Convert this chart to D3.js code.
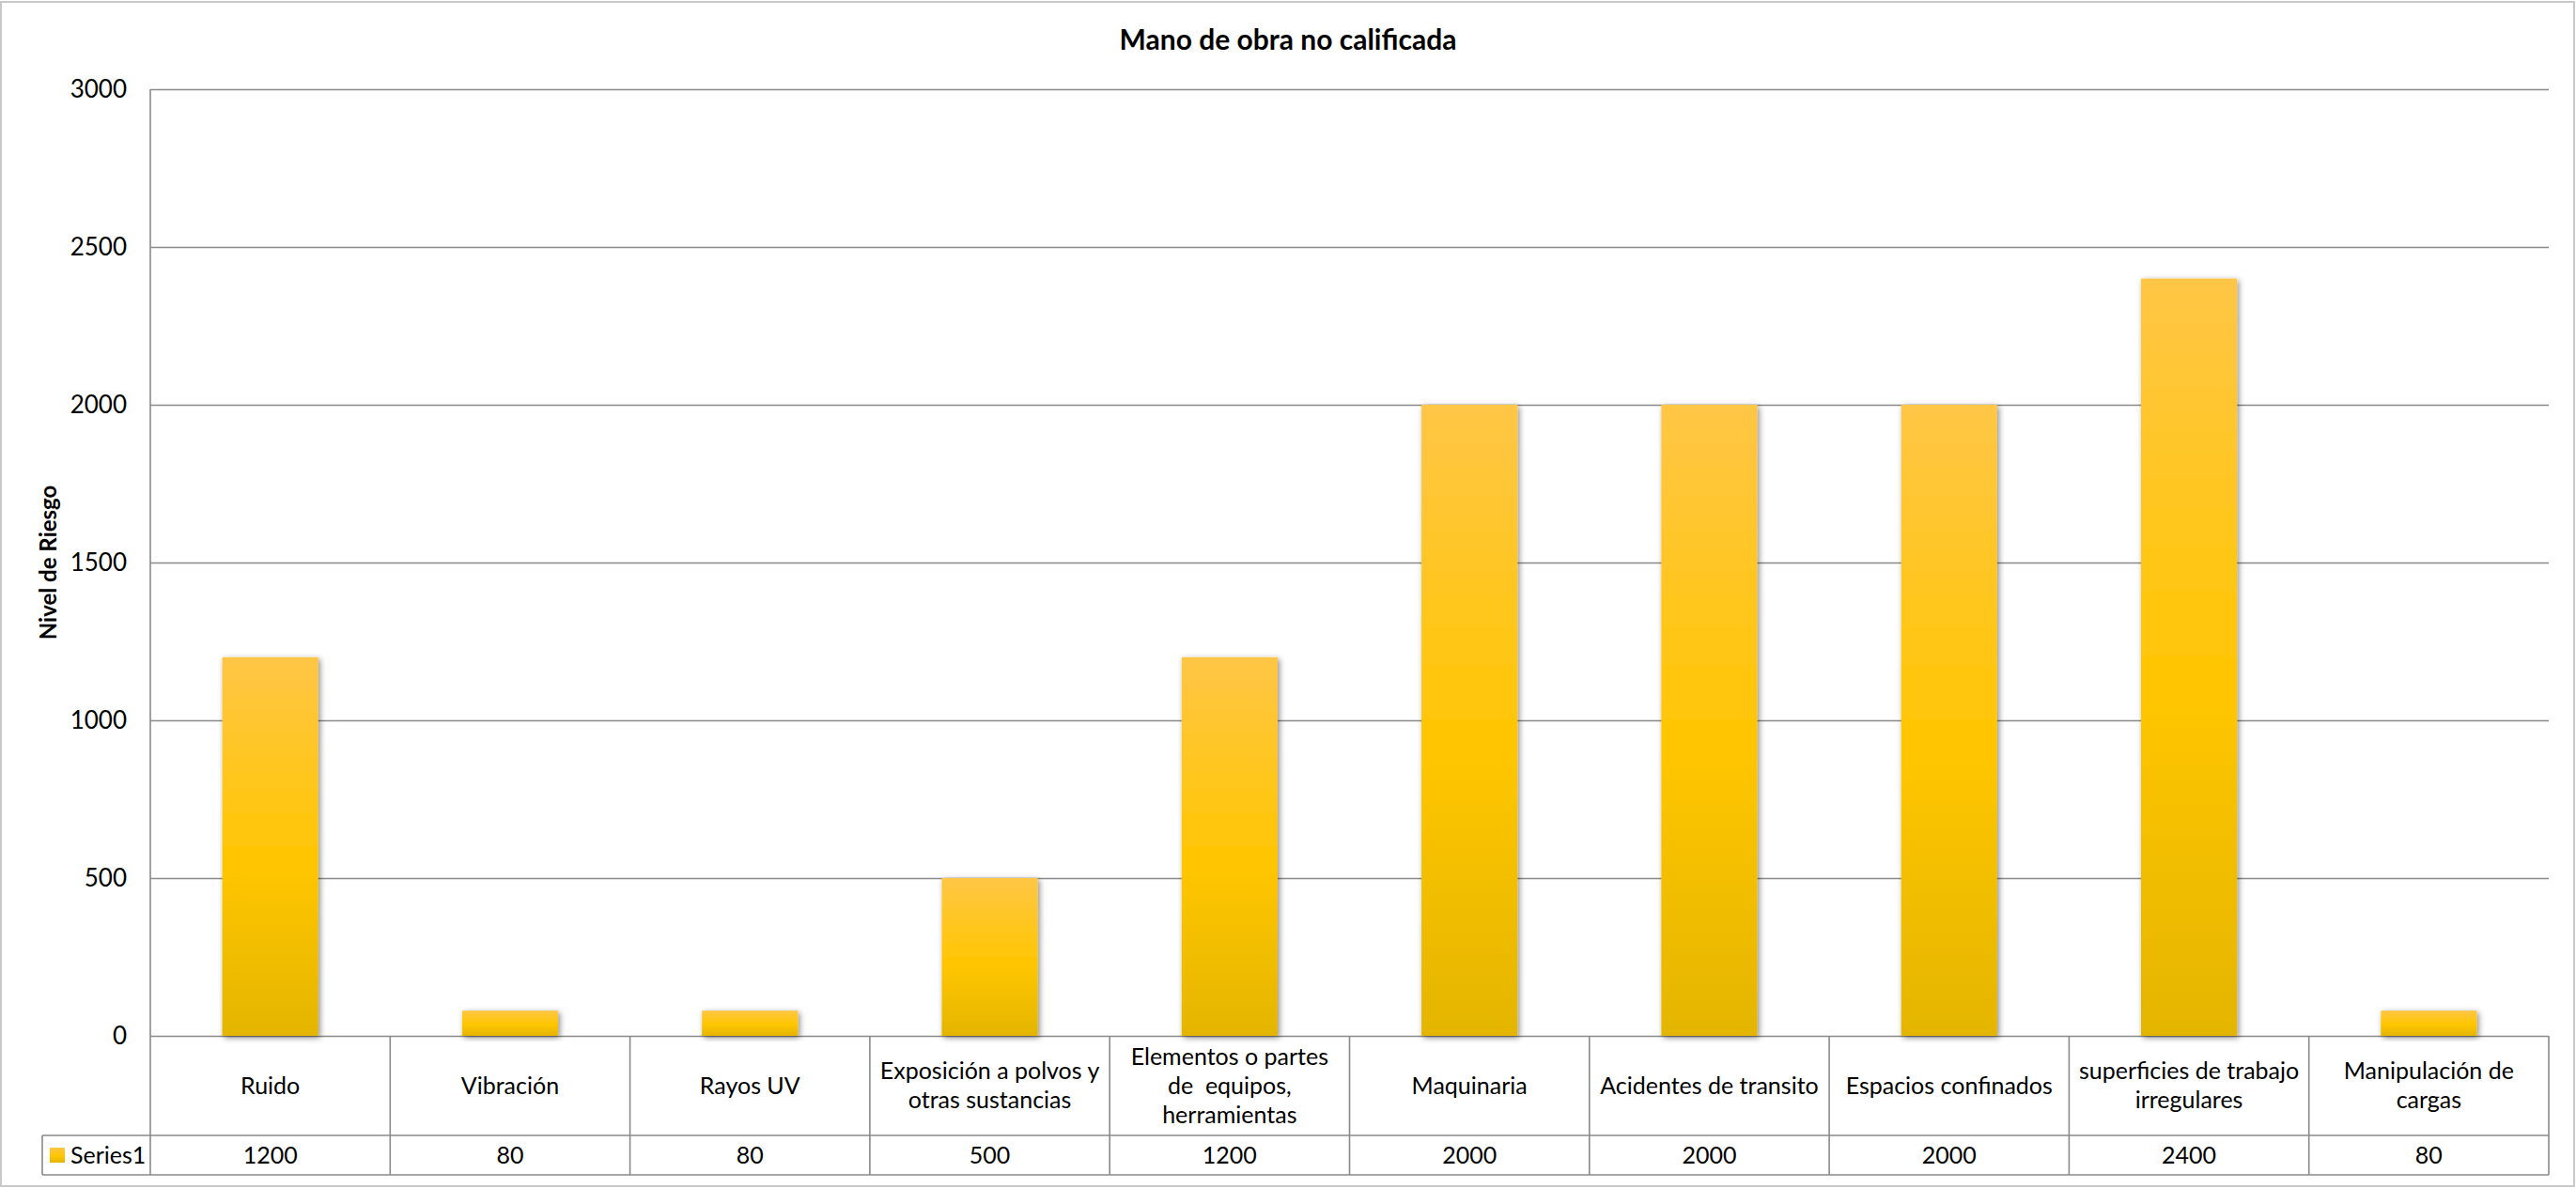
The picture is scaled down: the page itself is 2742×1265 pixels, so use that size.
<!DOCTYPE html>
<html>
<head>
<meta charset="utf-8">
<script src="https://cdn.jsdelivr.net/npm/d3@7"></script>
<style>
  html, body { margin: 0; padding: 0; background: #fff; }
  svg { display: block; }
  text { font-family: Lato, "Open Sans", sans-serif; fill: #000; }
</style>
</head>
<body>
<svg id="chart" width="2742" height="1265"></svg>
<script>
// Risk level per hazard (unskilled labour)
const chartTitle = "Mano de obra no calificada";
const yAxisTitle = "Nivel de Riesgo";
const seriesName = "Series1";
const categories = [
  ["Ruido"],
  ["Vibración"],
  ["Rayos UV"],
  ["Exposición a polvos y", "otras sustancias"],
  ["Elementos o partes", "de\u00a0 equipos,", "herramientas"],
  ["Maquinaria"],
  ["Acidentes de transito"],
  ["Espacios confinados"],
  ["superficies de trabajo", "irregulares"],
  ["Manipulación de", "cargas"]
];
const values = [1200, 80, 80, 500, 1200, 2000, 2000, 2000, 2400, 80];
const yTicks = [0, 500, 1000, 1500, 2000, 2500, 3000];

const W = 2742, H = 1265;
const plot = { left: 160, right: 2713, top: 95, bottom: 1103 };
const headerBottom = 1209, tableBottom = 1251, legendLeft = 45;

const svg = d3.select("#chart");

// outer chart frame
svg.append("rect")
  .attr("x", 1).attr("y", 2).attr("width", W - 3).attr("height", H - 4)
  .attr("fill", "#fff").attr("stroke", "#c8c8c8").attr("stroke-width", 2);

const defs = svg.append("defs");
const grad = defs.append("linearGradient")
  .attr("id", "barFill").attr("x1", 0).attr("y1", 0).attr("x2", 0).attr("y2", 1);
grad.append("stop").attr("offset", "0%").attr("stop-color", "#FFC646");
grad.append("stop").attr("offset", "55%").attr("stop-color", "#FFC600");
grad.append("stop").attr("offset", "100%").attr("stop-color", "#E4B500");

const shadow = defs.append("filter").attr("id", "barShadow")
  .attr("x", "-20%").attr("y", "-20%").attr("width", "140%").attr("height", "140%");
shadow.append("feDropShadow")
  .attr("dx", 2).attr("dy", 2).attr("stdDeviation", 3)
  .attr("flood-color", "#000").attr("flood-opacity", 0.45);

const x = d3.scaleBand()
  .domain(d3.range(categories.length))
  .range([plot.left, plot.right])
  .paddingInner(0.6).paddingOuter(0.3);
const xCell = d3.scaleBand()
  .domain(d3.range(categories.length))
  .range([plot.left, plot.right]);
const y = d3.scaleLinear().domain([0, 3000]).range([plot.bottom, plot.top]);

// value axis labels
const yAxis = d3.axisLeft(y).tickValues(yTicks).tickFormat(d3.format("d"))
  .tickSize(0).tickPadding(25);
const gAxis = svg.append("g").attr("transform", `translate(${plot.left},0)`).call(yAxis);
gAxis.select(".domain").remove();
gAxis.selectAll("text").attr("font-size", 26).attr("fill", "#000")
  .style("font-family", "Lato, 'Open Sans', sans-serif");

// gridlines
svg.append("g").selectAll("line").data(yTicks).join("line")
  .attr("x1", plot.left).attr("x2", plot.right)
  .attr("y1", d => Math.round(y(d)) + 0.5).attr("y2", d => Math.round(y(d)) + 0.5)
  .attr("stroke", "#8a8a8a").attr("stroke-width", 1.6);

// vertical axis line
svg.append("line")
  .attr("x1", plot.left).attr("x2", plot.left)
  .attr("y1", plot.top).attr("y2", tableBottom)
  .attr("stroke", "#8a8a8a").attr("stroke-width", 1.6);

// bars
svg.append("g").selectAll("rect").data(values).join("rect")
  .attr("x", (d, i) => x(i))
  .attr("y", d => y(d))
  .attr("width", x.bandwidth())
  .attr("height", d => y(0) - y(d))
  .attr("fill", "url(#barFill)")
  .attr("filter", "url(#barShadow)");

// data table lines
const tbl = svg.append("g").attr("stroke", "#8a8a8a").attr("stroke-width", 1.6);
tbl.selectAll("line.v").data(d3.range(1, categories.length + 1)).join("line")
  .attr("class", "v")
  .attr("x1", i => i < categories.length ? xCell(i) : plot.right)
  .attr("x2", i => i < categories.length ? xCell(i) : plot.right)
  .attr("y1", plot.bottom).attr("y2", tableBottom);
tbl.append("line").attr("x1", legendLeft).attr("x2", plot.right)
  .attr("y1", headerBottom).attr("y2", headerBottom);
tbl.append("line").attr("x1", legendLeft).attr("x2", plot.right)
  .attr("y1", tableBottom).attr("y2", tableBottom);
tbl.append("line").attr("x1", legendLeft).attr("x2", legendLeft)
  .attr("y1", headerBottom).attr("y2", tableBottom);

// category labels
const lineH = 31;
const headerMid = (plot.bottom + headerBottom) / 2;
svg.append("g").selectAll("text").data(categories).join("text")
  .attr("text-anchor", "middle")
  .attr("font-size", 25)
  .each(function(lines, i) {
    const t = d3.select(this);
    const cx = xCell(i) + xCell.bandwidth() / 2;
    const y0 = headerMid - (lines.length - 1) * lineH / 2;
    lines.forEach((ln, k) => {
      t.append("tspan").attr("x", cx).attr("y", y0 + k * lineH)
        .attr("dy", "0.35em").text(ln);
    });
  });

// value row
const rowMid = (headerBottom + tableBottom) / 2;
svg.append("g").selectAll("text").data(values).join("text")
  .attr("x", (d, i) => xCell(i) + xCell.bandwidth() / 2)
  .attr("y", rowMid).attr("dy", "0.35em")
  .attr("text-anchor", "middle").attr("font-size", 25)
  .text(d => d);

// legend key in table
svg.append("rect").attr("x", 53).attr("y", rowMid - 8).attr("width", 16).attr("height", 16)
  .attr("fill", "url(#barFill)");
svg.append("text").attr("x", 75).attr("y", rowMid).attr("dy", "0.35em")
  .attr("font-size", 25).text(seriesName);

// titles
svg.append("text").attr("x", W / 2).attr("y", 42).attr("dy", "0.35em")
  .attr("text-anchor", "middle").attr("font-size", 30).attr("font-weight", "bold")
  .text(chartTitle);
svg.append("text")
  .attr("transform", `translate(52,${(plot.top + plot.bottom) / 2}) rotate(-90)`)
  .attr("dy", "0.35em").attr("text-anchor", "middle")
  .attr("font-size", 24).attr("font-weight", "bold")
  .text(yAxisTitle);
</script>
</body>
</html>
